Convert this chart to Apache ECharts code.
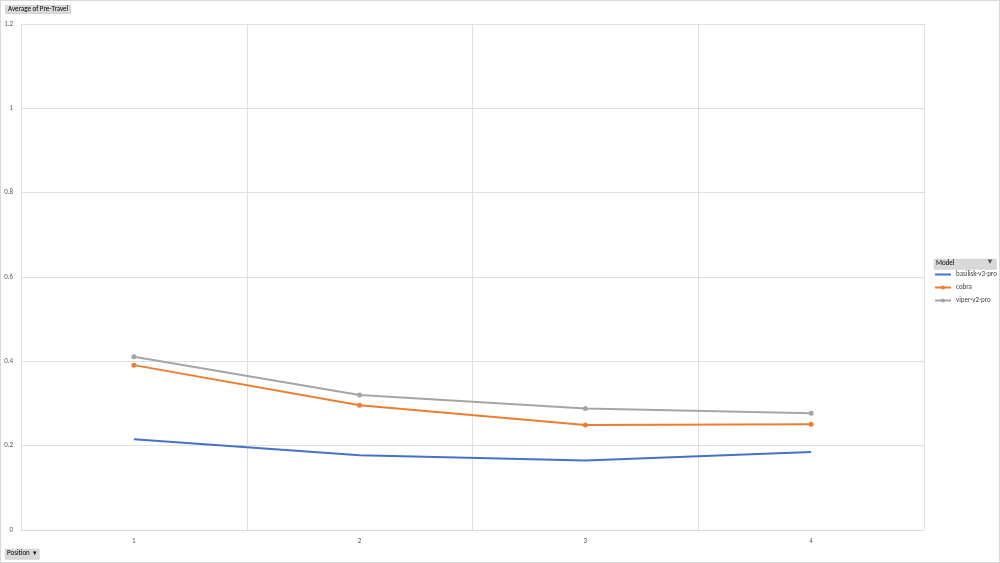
<!DOCTYPE html>
<html>
<head>
<meta charset="utf-8">
<script src="https://cdn.jsdelivr.net/npm/echarts@6/dist/echarts.min.js"></script>
<style>
  html, body { margin: 0; padding: 0; background: #fff; }
  #main { width: 1000px; height: 563px; box-sizing: border-box; border: 1px solid #d9d9d9; }
</style>
</head>
<body>
<div id="main"></div>
<script>
// positions on the x axis
var positions = ['1', '2', '3', '4'];
// average pre-travel per model
var basilisk = [0.215, 0.177, 0.165, 0.185];
var cobra = [0.391, 0.296, 0.249, 0.251];
var viper = [0.411, 0.320, 0.288, 0.277];

var labelFont = 'Calibri, "Liberation Sans", "DejaVu Sans", sans-serif';

var chart = echarts.init(document.getElementById('main'));
var option = {
    animation: false,
    textStyle: { fontFamily: labelFont },
    title: {
        text: 'Average of Pre-Travel',
        left: 4, top: 4,
        padding: [1, 3],
        backgroundColor: '#d9d9d9',
        borderColor: '#bfbfbf', borderWidth: 0.5,
        textStyle: { fontSize: 7, fontWeight: 'normal', color: '#000', fontFamily: labelFont }
    },
    grid: { left: 20, right: 75, top: 23, bottom: 32 },
    legend: {
        orient: 'vertical',
        left: 931, top: 268,
        padding: 2,
        itemWidth: 16, itemHeight: 5, itemGap: 6,
        textStyle: { fontSize: 7, color: '#404040', fontFamily: labelFont },
        data: [
            { name: 'basilisk-v3-pro', itemStyle: { opacity: 0 } },
            'cobra',
            'viper-v2-pro'
        ]
    },
    graphic: [
        {
            type: 'rect', left: 933, top: 258,
            shape: { width: 62, height: 10 },
            style: { fill: '#d9d9d9', stroke: '#bfbfbf', lineWidth: 0.5 }
        },
        {
            type: 'text', left: 935, top: 259,
            style: { text: 'Model', fontSize: 7, fill: '#000', fontFamily: labelFont }
        },
        {
            type: 'text', left: 985, top: 257,
            style: { text: '\u25BC', fontSize: 8, fill: '#595959' }
        },
        {
            type: 'rect', left: 4, top: 548,
            shape: { width: 34, height: 10 },
            style: { fill: '#d9d9d9', stroke: '#bfbfbf', lineWidth: 0.5 }
        },
        {
            type: 'text', left: 6, top: 549,
            style: { text: 'Position  ▾', fontSize: 7, fill: '#000', fontFamily: labelFont }
        }
    ],
    xAxis: {
        type: 'category',
        data: positions,
        boundaryGap: true,
        axisLine: { lineStyle: { color: '#d9d9d9' } },
        axisTick: { show: false },
        axisLabel: { fontSize: 7, color: '#595959', margin: 8 },
        splitLine: { show: true, lineStyle: { color: '#e0e0e0' } }
    },
    yAxis: {
        type: 'value',
        min: 0, max: 1.2, interval: 0.2,
        axisLine: { show: false },
        axisTick: { show: false },
        axisLabel: { fontSize: 7, color: '#595959', margin: 8 },
        splitLine: { lineStyle: { color: '#e0e0e0' } }
    },
    series: [
        {
            name: 'basilisk-v3-pro', type: 'line', data: basilisk,
            showSymbol: false, symbol: 'none',
            itemStyle: { color: '#4472c4' },
            lineStyle: { width: 2, color: '#4472c4' }
        },
        {
            name: 'cobra', type: 'line', data: cobra,
            symbol: 'circle', symbolSize: 5,
            itemStyle: { color: '#ed7d31' },
            lineStyle: { width: 2, color: '#ed7d31' }
        },
        {
            name: 'viper-v2-pro', type: 'line', data: viper,
            symbol: 'circle', symbolSize: 5,
            itemStyle: { color: '#a5a5a5' },
            lineStyle: { width: 2, color: '#a5a5a5' }
        }
    ]
};
chart.setOption(option);
</script>
</body>
</html>
